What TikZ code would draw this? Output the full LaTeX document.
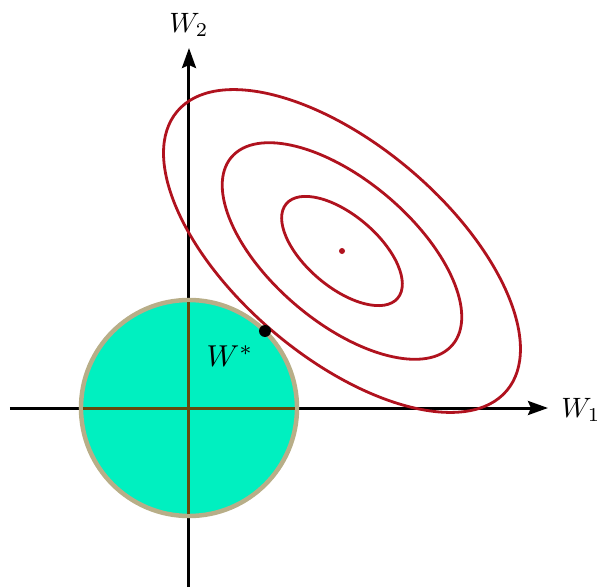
\documentclass[tikz,border=0pt]{standalone}
\usetikzlibrary{arrows.meta}
\definecolor{ellred}{RGB}{176,18,30}
\definecolor{ballfill}{RGB}{0,240,192}
\definecolor{balledge}{RGB}{184,174,136}
\definecolor{axinside}{RGB}{100,74,14}
\tikzset{
  axisline/.style={line width=3pt,-{Stealth[length=20pt,width=14pt,inset=3pt]}},
  contour/.style={draw=ellred,line width=2.8pt},
  lbl/.style={inner sep=0pt,scale=2.8,transform shape}
}
\begin{document}
\begin{tikzpicture}[x=1pt,y=1pt]
\useasboundingbox (-189,-179) rectangle (414,408);
% axes
\coordinate (xs) at (-179,0);
\coordinate (xe) at (359,0);
\coordinate (ys) at (0,-179);
\coordinate (ye) at (0,360);
\coordinate (O) at (0,0);
\draw[axisline] (xs) -- (xe);
\draw[axisline] (ys) -- (ye);
% ball
\draw[fill=ballfill,draw=balledge,line width=4.5pt] (O) circle (108);
\draw[axinside,line width=3pt] (-106,0) -- (106,0);
\draw[axinside,line width=3pt] (0,-106) -- (0,106);
% contours
\coordinate (c) at (153,157);
\draw[contour,rotate around={-40.3:(c)}] (c) ellipse (216 and 106);
\draw[contour,rotate around={-40.3:(c)}] (c) ellipse (145 and 71);
\draw[contour,rotate around={-40.3:(c)}] (c) ellipse (73 and 36);
\fill[ellred] (c) circle (3);
% optimum
\node[circle,fill=black,inner sep=0pt,minimum size=12pt] (wstar) at (76,77) {};
% labels
\node[lbl] (w2) at (0,383) {$W_2$};
\node[lbl] (w1) at (392,-2) {$W_1$};
\node[lbl,scale=1.08] (ws) at (41,52) {$W^*$};
\end{tikzpicture}
\end{document}
